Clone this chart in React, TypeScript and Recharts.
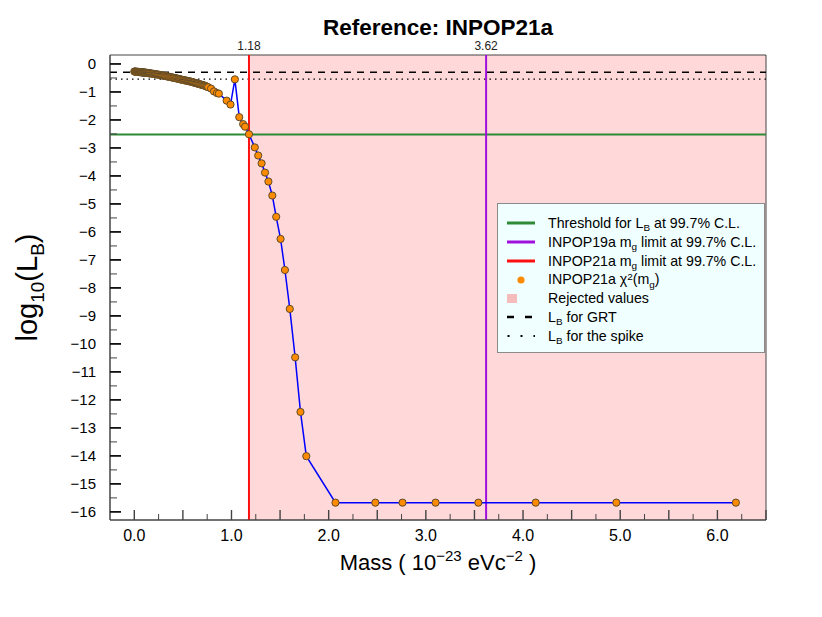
import React from 'react';
import { ComposedChart, Line, XAxis, YAxis, ReferenceLine, ReferenceArea, Legend } from 'recharts';

// values
const MASS = [
  0.0, 0.005, 0.01, 0.015, 0.02, 0.025, 0.03, 0.035, 0.04, 0.045, 0.05, 0.055, 0.06, 0.065, 0.07, 0.075,
  0.08, 0.085, 0.09, 0.095, 0.1, 0.105, 0.11, 0.115, 0.12, 0.125, 0.13, 0.135, 0.14, 0.145, 0.15, 0.155, 0.16,
  0.17, 0.18, 0.19, 0.2, 0.21, 0.22, 0.23, 0.24, 0.25, 0.26, 0.27, 0.28, 0.29, 0.3, 0.31, 0.32, 0.33, 0.34,
  0.35, 0.36, 0.37, 0.38, 0.39, 0.4, 0.41, 0.42, 0.43, 0.44, 0.45, 0.46, 0.47, 0.48, 0.49, 0.5, 0.51, 0.52,
  0.53, 0.54, 0.55, 0.56, 0.57, 0.58, 0.59, 0.6, 0.61, 0.62, 0.63, 0.64, 0.65, 0.66, 0.67, 0.68, 0.69, 0.7,
  0.71, 0.72, 0.73, 0.74, 0.75, 0.76, 0.79, 0.82, 0.85, 0.87,
  0.95, 0.99, 1.035, 1.08, 1.12, 1.14, 1.18, 1.24, 1.275, 1.31, 1.345, 1.38, 1.42, 1.46, 1.505, 1.55,
  1.6, 1.655, 1.71, 1.77, 2.07, 2.48, 2.76, 3.1, 3.54, 4.13, 4.96, 6.19,
];
const LOG_LB = [
  -0.27, -0.272, -0.274, -0.276, -0.278, -0.28, -0.281, -0.283, -0.285, -0.287, -0.289, -0.29, -0.292, -0.294, -0.296, -0.298,
  -0.3, -0.301, -0.303, -0.305, -0.307, -0.309, -0.311, -0.313, -0.315, -0.318, -0.32, -0.322, -0.325, -0.327, -0.33, -0.332, -0.335,
  -0.34, -0.345, -0.35, -0.355, -0.36, -0.366, -0.372, -0.378, -0.384, -0.39, -0.397, -0.404, -0.411, -0.418, -0.424, -0.43, -0.438, -0.445,
  -0.452, -0.46, -0.467, -0.475, -0.482, -0.49, -0.497, -0.505, -0.512, -0.52, -0.53, -0.54, -0.548, -0.555, -0.563, -0.57, -0.578, -0.585,
  -0.592, -0.6, -0.608, -0.615, -0.622, -0.63, -0.64, -0.65, -0.66, -0.67, -0.68, -0.69, -0.7, -0.71, -0.72, -0.73, -0.74, -0.75,
  -0.76, -0.77, -0.785, -0.8, -0.815, -0.83, -0.88, -0.98, -1.04, -1.06,
  -1.31, -1.45, -0.55, -1.9, -2.15, -2.24, -2.51, -2.98, -3.27, -3.55, -3.88, -4.2, -4.7, -5.46, -6.25, -7.36,
  -8.75, -10.48, -12.43, -14.01, -15.67, -15.67, -15.67, -15.67, -15.67, -15.67, -15.67, -15.67,
];

const X_LABELS = [0, 1, 2, 3, 4, 5, 6];
const Y_LABELS = [0, -1, -2, -3, -4, -5, -6, -7, -8, -9, -10, -11, -12, -13, -14, -15, -16];

const THRESHOLD = -2.523; // log10(0.003)
const LB_GRT = -0.3;
const LB_SPIKE = -0.545;
const LIMIT_21A = 1.18;
const LIMIT_19A = 3.62;

const X_DOMAIN: [number, number] = [-0.25, 6.5];
const Y_DOMAIN: [number, number] = [-16.29, 0.32];

const data = MASS.map((m, i) => ({ x: m, y: LOG_LB[i] }));

// quarter ticks on x, half ticks on y
const xTicks: number[] = [];
for (let i = 0; i <= 26; i++) xTicks.push(i * 0.25);
const yTicks: number[] = [];
for (let i = 0; i <= 32; i++) yTicks.push(-i * 0.5);

const FONT = '"Liberation Sans", Arial, Helvetica, sans-serif';
const AXIS = '#444';

const XTick = (props: any) => {
  const { x, y, payload } = props;
  const v = payload.value;
  const half = Math.abs(v * 2 - Math.round(v * 2)) < 1e-6;
  const labeled = X_LABELS.some((l) => Math.abs(l - v) < 1e-6);
  return (
    <g>
      <line x1={x} x2={x} y1={y} y2={y - (half ? 10 : 6)} stroke={AXIS} strokeWidth={half ? 1.4 : 1} />
      {labeled && (
        <text x={x} y={y + 21} textAnchor="middle" fontSize={16} fontFamily={FONT} fill="#000">
          {v.toFixed(1)}
        </text>
      )}
    </g>
  );
};

const YTick = (props: any) => {
  const { x, y, payload } = props;
  const v = payload.value;
  const major = Y_LABELS.includes(v);
  return (
    <g>
      <line x1={x} x2={x + (major ? 11 : 7)} y1={y} y2={y} stroke={major ? '#111' : AXIS} strokeWidth={major ? 1.8 : 1} />
      {major && (
        <text x={x - 14} y={y + 5.5} textAnchor="end" fontSize={15} fontFamily={FONT} fill="#000">
          {v === 0 ? '0' : '\u2212' + Math.abs(v)}
        </text>
      )}
    </g>
  );
};

const XLabel = (props: any) => {
  const vb = props.viewBox;
  return (
    <text x={vb.x + vb.width / 2} y={vb.y + 50} textAnchor="middle" fontSize={22} fontFamily={FONT} fill="#000">
      Mass ( 10
      <tspan dy={-9} fontSize={15}>{'\u221223'}</tspan>
      <tspan dy={9}> eVc</tspan>
      <tspan dy={-9} fontSize={15}>{'\u22122'}</tspan>
      <tspan dy={9}> )</tspan>
    </text>
  );
};

const YLabel = (props: any) => {
  const vb = props.viewBox;
  const cx = 37;
  const cy = vb.y + vb.height / 2;
  return (
    <text x={cx} y={cy} transform={`rotate(-90, ${cx}, ${cy})`} textAnchor="middle" fontSize={29} fontFamily={FONT} fill="#000">
      log
      <tspan dy={7} fontSize={19}>10</tspan>
      <tspan dy={-7}>(L</tspan>
      <tspan dy={7} fontSize={19}>B</tspan>
      <tspan dy={-7}>)</tspan>
    </text>
  );
};

const subStyle: React.CSSProperties = { fontSize: '0.7em', verticalAlign: 'baseline', position: 'relative', top: '0.35em', lineHeight: 0 };
const supStyle: React.CSSProperties = { fontSize: '0.7em', verticalAlign: 'baseline', position: 'relative', top: '-0.45em', lineHeight: 0 };
const Sub = ({ children }: { children: React.ReactNode }) => <span style={subStyle}>{children}</span>;
const Sup = ({ children }: { children: React.ReactNode }) => <span style={supStyle}>{children}</span>;

const LEGEND_ROWS = [
  { kind: 'line', color: '#2f8a36', label: <>Threshold for L<Sub>B</Sub> at 99.7% C.L.</> },
  { kind: 'line', color: '#a010dc', label: <>INPOP19a m<Sub>g</Sub> limit at 99.7% C.L.</> },
  { kind: 'line', color: '#ff1010', label: <>INPOP21a m<Sub>g</Sub> limit at 99.7% C.L.</> },
  { kind: 'dot', color: '#ff8c00', label: <>INPOP21a &chi;<Sup>2</Sup>(m<Sub>g</Sub>)</> },
  { kind: 'box', color: '#f5bcbc', label: <>Rejected values</> },
  { kind: 'dash', color: '#000', label: <>L<Sub>B</Sub> for GRT</> },
  { kind: 'dots', color: '#000', label: <>L<Sub>B</Sub> for the spike</> },
];

const Symbol = ({ kind, color }: { kind: string; color: string }) => (
  <svg width={30} height={12} style={{ display: 'block' }}>
    {kind === 'line' && <line x1={0} x2={28} y1={6} y2={6} stroke={color} strokeWidth={3} />}
    {kind === 'dot' && <circle cx={14} cy={6} r={3.6} fill={color} />}
    {kind === 'box' && <rect x={0} y={1} width={10} height={9} fill={color} />}
    {kind === 'dash' && <line x1={0} x2={28} y1={6} y2={6} stroke={color} strokeWidth={2.5} strokeDasharray="7 11" />}
    {kind === 'dots' && <line x1={0.5} x2={28} y1={6} y2={6} stroke={color} strokeWidth={2} strokeDasharray="2 11" />}
  </svg>
);

const LegendBox = () => (
  <div
    style={{
      boxSizing: 'border-box',
      width: 268,
      height: 150,
      background: '#f0ffff',
      border: '1px solid #8a8a8a',
      paddingTop: 10,
      paddingLeft: 9,
      fontFamily: FONT,
      fontSize: 14.2,
      color: '#000',
    }}
  >
    {LEGEND_ROWS.map((r, i) => (
      <div key={i} style={{ display: 'flex', alignItems: 'center', height: 18.8, lineHeight: '18.8px', whiteSpace: 'nowrap' }}>
        <div style={{ width: 41, flexShrink: 0 }}>
          <Symbol kind={r.kind} color={r.color} />
        </div>
        <span>{r.label}</span>
      </div>
    ))}
  </div>
);

export default function App() {
  return (
    <div style={{ position: 'absolute', left: 0, top: 0, width: 822, height: 617, background: '#fff' }}>
      <div
        style={{
          position: 'absolute',
          left: 0,
          top: 15,
          width: 876,
          textAlign: 'center',
          fontFamily: FONT,
          fontWeight: 'bold',
          fontSize: 22.5,
          zIndex: 2,
        }}
      >
        Reference: INPOP21a
      </div>
      <ComposedChart width={822} height={617} data={data} margin={{ top: 55, right: 56, bottom: 60, left: 60 }}>
        <XAxis
          type="number"
          dataKey="x"
          domain={X_DOMAIN}
          allowDataOverflow
          ticks={xTicks}
          interval={0}
          height={37}
          tickSize={0}
          tickMargin={0}
          tick={<XTick />}
          stroke={AXIS}
          label={<XLabel />}
        />
        <YAxis
          type="number"
          domain={Y_DOMAIN}
          allowDataOverflow
          ticks={yTicks}
          interval={0}
          width={50}
          tickSize={0}
          tickMargin={0}
          tick={<YTick />}
          stroke={AXIS}
          label={<YLabel />}
        />
        <ReferenceArea x1={LIMIT_21A} x2={X_DOMAIN[1]} fill="#ffd9d9" fillOpacity={1} stroke="none" />
        <ReferenceLine y={THRESHOLD} stroke="#2f8a36" strokeWidth={2} />
        <ReferenceLine y={LB_GRT} stroke="#000" strokeWidth={1.5} strokeDasharray="7 6" />
        <ReferenceLine y={LB_SPIKE} stroke="#000" strokeWidth={1.3} strokeDasharray="1.5 4" />
        <ReferenceLine
          x={LIMIT_21A}
          stroke="#ff1010"
          strokeWidth={2}
          label={{ value: '1.18', position: 'top', fontSize: 12, fill: '#222', offset: 5, fontFamily: FONT }}
        />
        <ReferenceLine
          x={LIMIT_19A}
          stroke="#a010dc"
          strokeWidth={2}
          label={{ value: '3.62', position: 'top', fontSize: 12, fill: '#222', offset: 5, fontFamily: FONT }}
        />
        <Line
          type="linear"
          dataKey="y"
          stroke="#0000ff"
          strokeWidth={1.5}
          dot={{ r: 3.6, fill: '#ff8c00', stroke: '#5e4a28', strokeWidth: 1 }}
          activeDot={false}
          isAnimationActive={false}
        />
        <ReferenceArea x1={X_DOMAIN[0]} x2={X_DOMAIN[1]} y1={Y_DOMAIN[0]} y2={Y_DOMAIN[1]} fill="none" stroke={AXIS} strokeWidth={1} />
        <Legend
          layout="vertical"
          align="center"
          verticalAlign="middle"
          content={<LegendBox />}
          wrapperStyle={{ left: 497, top: 203, width: 268, height: 150 }}
        />
      </ComposedChart>
    </div>
  );
}
